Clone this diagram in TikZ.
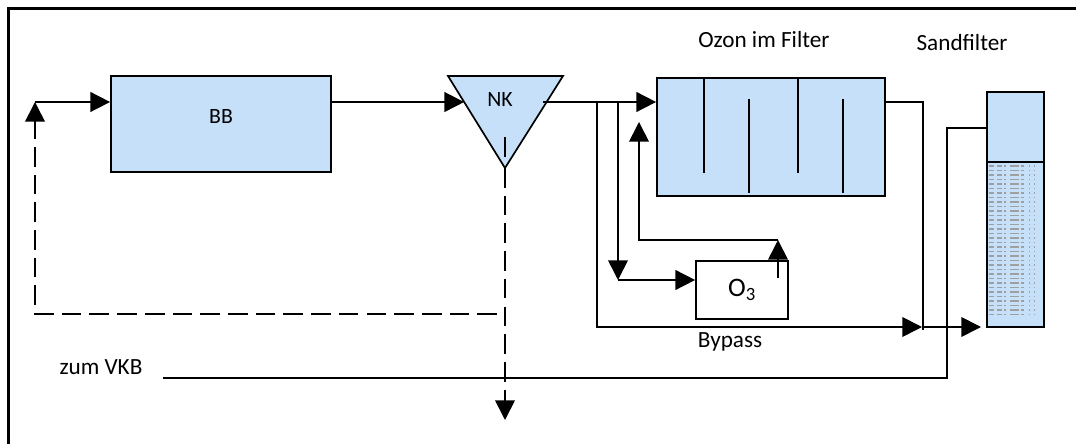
\documentclass[tikz,border=0pt]{standalone}
\usepackage{fontspec}
\setmainfont{Carlito}
\usetikzlibrary{arrows.meta,positioning,calc}
\definecolor{basin}{HTML}{C6E0FA}
\tikzset{
  pipe/.style={line width=1.2pt},
  dpipe/.style={pipe, dash pattern=on 14pt off 5.7pt},
  box/.style={draw, rectangle, pipe, inner sep=0pt},
  tank/.style={box, fill=basin},
  arr/.style={-{Triangle[length=14pt,width=14pt]}, pipe},
  darr/.style={arr, dash pattern=on 14pt off 5.7pt},
  lbl/.style={font=\fontsize{16.5}{19}\selectfont, inner sep=0pt},
  sanddots/.style={gray!75, line width=1pt, dash pattern=on 3.5pt off 2pt on 3.5pt off 2pt on 1.4pt off 2.8pt on 6.4pt off 1.4pt on 2.1pt off 3.5pt on 0.7pt off 2.8pt on 0.7pt off 30pt}
}
\begin{document}
\begin{tikzpicture}[x=0.025cm, y=-0.025cm]
\useasboundingbox (0,0) rectangle (1076,444);
\clip (0,0) rectangle (1076,444);
\draw[line width=1.5pt] (8.5,8.5) rectangle (1100,470);

% Becken und Nachklaerung
\node[tank, minimum width=5.5cm, minimum height=2.4cm,
  label={[lbl, font=\fontsize{15.5}{18}\selectfont, yshift=5pt]center:BB}] (bb) at (221,124) {};
\draw[pipe, fill=basin] (448,76) coordinate (nkl) -- (563,76) coordinate (nkr)
  -- (505,168) coordinate (nkb) -- cycle;
\node[lbl, font=\fontsize{15.5}{18}\selectfont] (nk) at (500,100) {NK};
\draw[pipe] (505,137) -- (505,157);

% Ozon
\node[tank, minimum width=5.7cm, minimum height=2.95cm] (oz) at (771,137) {};
\foreach \xx/\ya/\yb in {704/78/173, 749/99/193, 798/78/173, 843/99/193}
  \draw[pipe] (\xx,\ya) -- (\xx,\yb);
\node[lbl] (ozl) at (764,40) {Ozon im Filter};
\node[box, fill=white, minimum width=2.3cm, minimum height=1.45cm,
  font=\fontsize{19}{22}\selectfont] (o3) at (742,290) {O\textsubscript{3}};

% Sandfilter
\node[tank, minimum width=1.425cm, minimum height=5.875cm] (sf) at (1015.5,209.5) {};
\foreach \yy in {166,170.5,...,318} \draw[sanddots] (989,\yy) -- (1036,\yy);
\draw[pipe] (sf.west |- 0,162) -- (sf.east |- 0,162);
\node[lbl] (sfl) at (962,43) {Sandfilter};

% Leitungen
\coordinate (in) at (35,102);
\coordinate (nkin) at ($(nkl)!0.283!(nkb)$);
\coordinate (nkout) at (543,102);
\coordinate (ba) at (597,102);
\coordinate (bo) at (618,102);
\draw[arr] (in) -- (in -| bb.west);
\draw[arr] (bb.east |- in) -- (nkin);
\draw[arr] (nkout) -- (oz.west |- in);
\draw[arr] (ba) -- (597,327) -- (922,327);
\draw[arr] (bo) -- (618,280);
\draw[arr] (618,280) -- (o3.west |- 0,280);
\draw[arr] (778,278) -- (778,240);
\draw[arr] (778,240) -- (639,240) -- (639,122);
\draw[pipe] (oz.east |- in) -- (923,102) -- (923,330);
\draw[arr] (924,327) -- (981,327);
\draw[pipe] (163,378) -- (947,378) -- (947,128) -- (sf.west |- 0,128);
\draw[darr] (497,314) -- (35,314) -- (in);
\draw[darr] (nkb) -- (505,420);

\node[lbl] (byl) at (730,342) {Bypass};
\node[lbl] (vkb) at (101,367) {zum VKB};
\end{tikzpicture}
\end{document}
